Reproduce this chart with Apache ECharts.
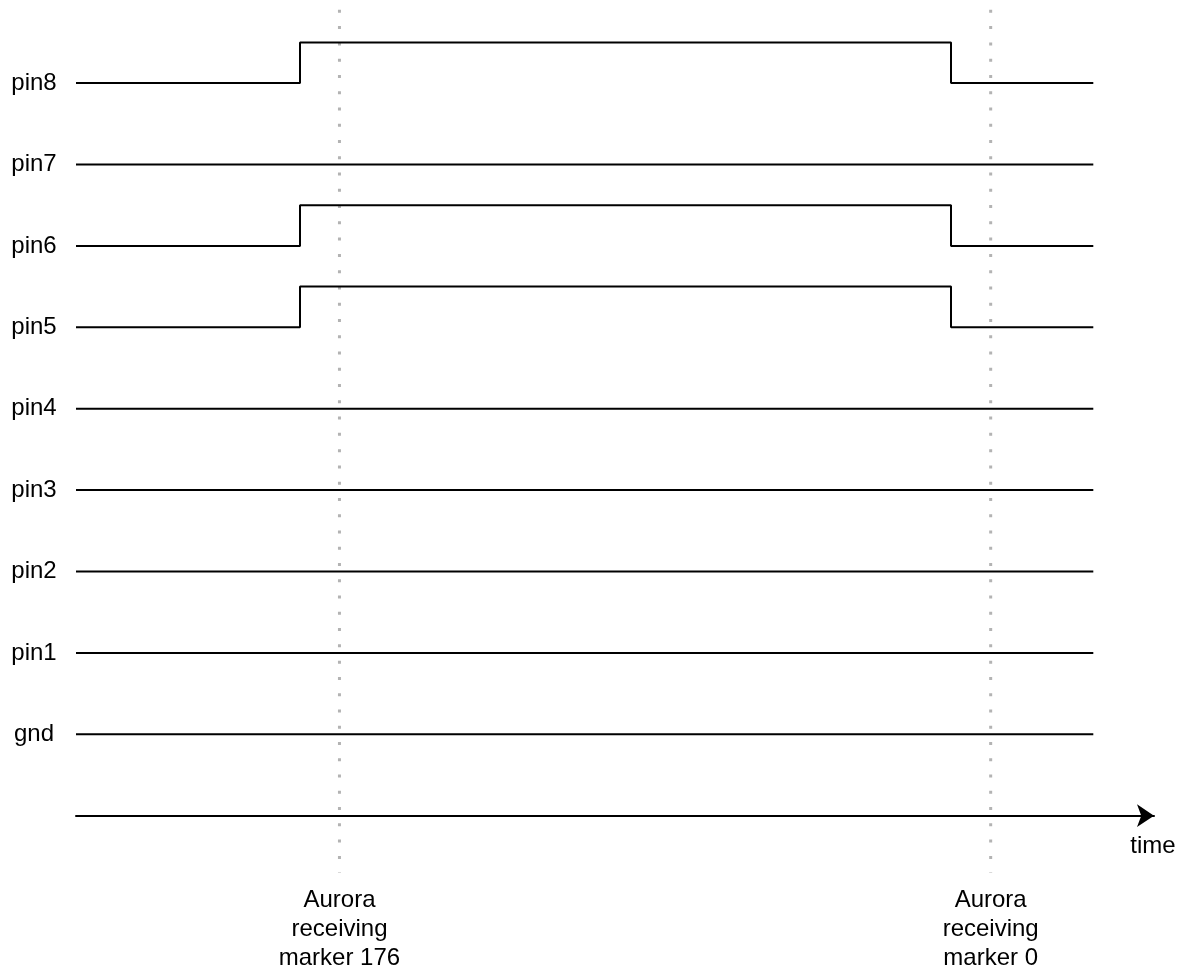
<!DOCTYPE html>
<html>
<head>
<meta charset="utf-8">
<script src="https://cdn.jsdelivr.net/npm/echarts@6/dist/echarts.min.js"></script>
<style>
html,body{margin:0;padding:0;background:#fff;}
#chart{width:1183px;height:970px;}
</style>
</head>
<body>
<div id="chart"></div>
<script>
// Signal rows (bottom to top): value 1 = gnd ... value 9 = pin8; value 0 = time axis
const levelNames = ['gnd', 'pin1', 'pin2', 'pin3', 'pin4', 'pin5', 'pin6', 'pin7', 'pin8'];
// time points: start, rising edge, falling edge, end
const edgeTimes = [0, 20.78, 81.17, 94.37];
// logic state of each signal at each edge time (0 = low, 1 = high)
const gndStates  = [0, 0, 0, 0];
const pin1States = [0, 0, 0, 0];
const pin2States = [0, 0, 0, 0];
const pin3States = [0, 0, 0, 0];
const pin4States = [0, 0, 0, 0];
const pin5States = [0, 1, 0, 0];
const pin6States = [0, 1, 0, 0];
const pin7States = [0, 0, 0, 0];
const pin8States = [0, 1, 0, 0];
const signalStates = [gndStates, pin1States, pin2States, pin3States, pin4States,
                      pin5States, pin6States, pin7States, pin8States];
const highLevel = 0.5;
// event markers
const markerTimes = [24.44, 84.85];
const markerLabels = ['Aurora\nreceiving\nmarker 176', 'Aurora\nreceiving\nmarker 0'];
const markerSpan = [9.9, -0.7];

const FONT = 'Liberation Sans, Arial, Helvetica, sans-serif';

const series = [];
markerTimes.forEach(function (t, i) {
  series.push({
    type: 'line',
    z: 1,
    silent: true,
    showSymbol: false,
    data: markerSpan.map(function (v) { return [t, v]; }),
    lineStyle: { color: '#b3b3b3', width: 3, type: [3, 13.27], cap: 'butt' }
  });
  series.push({
    type: 'scatter',
    z: 1,
    silent: true,
    symbolSize: 0,
    itemStyle: { opacity: 1, color: '#000' },
    emphasis: { disabled: true },
    data: [[t, markerSpan[1]]],
    label: {
      show: true,
      position: 'bottom',
      distance: 13,
      formatter: markerLabels[i],
      fontFamily: FONT,
      fontSize: 24,
      lineHeight: 29,
      align: 'center',
      color: '#000',
      opacity: 1,
      textBorderWidth: 0
    }
  });
});
signalStates.forEach(function (states, idx) {
  const base = idx + 1;
  series.push({
    type: 'line',
    name: levelNames[idx],
    z: 3,
    silent: true,
    step: 'end',
    showSymbol: false,
    data: edgeTimes.map(function (t, k) { return [t, base + states[k] * highLevel]; }),
    lineStyle: { color: '#000', width: 2 }
  });
});

const chart = echarts.init(document.getElementById('chart'));
chart.setOption({
  animation: false,
  backgroundColor: '#fff',
  grid: { left: 76, right: 29, top: 1.7, bottom: 72.9, containLabel: false },
  xAxis: {
    type: 'value',
    min: 0,
    max: 100,
    name: 'time',
    nameLocation: 'end',
    nameGap: -1,
    nameTextStyle: {
      fontFamily: FONT, fontSize: 24, color: '#000',
      align: 'center', verticalAlign: 'top', padding: [19, 0, 0, 0]
    },
    axisLine: {
      show: true,
      onZero: true,
      symbol: ['none', 'arrow'],
      symbolSize: [17, 17],
      lineStyle: { color: '#000', width: 2 }
    },
    axisTick: { show: false },
    axisLabel: { show: false },
    splitLine: { show: false }
  },
  yAxis: {
    type: 'value',
    min: -1,
    max: 10,
    interval: 1,
    axisLine: { show: false },
    axisTick: { show: false },
    splitLine: { show: false },
    axisLabel: {
      show: true,
      margin: 42,
      align: 'center',
      fontFamily: FONT,
      fontSize: 24,
      color: '#000',
      formatter: function (v) {
        const i = Math.round(v) - 1;
        return (i >= 0 && i < levelNames.length) ? levelNames[i] : '';
      }
    }
  },
  series: series
});
</script>
</body>
</html>
